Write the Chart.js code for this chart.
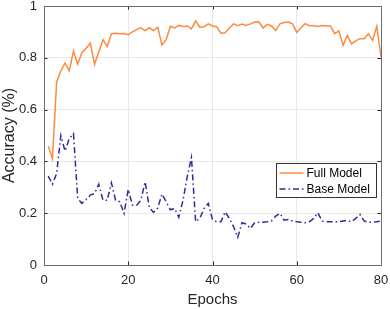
<!DOCTYPE html>
<html>
<head>
<meta charset="utf-8">
<script src="https://cdn.jsdelivr.net/npm/chart.js@4/dist/chart.umd.min.js"></script>
<style>
  html, body { margin: 0; padding: 0; background: #fff; }
  #wrap { width: 390px; height: 309px; }
</style>
</head>
<body>
<div id="wrap"><canvas id="chart" width="390" height="309"></canvas></div>
<script>
// values, epochs 1..80
const epochs = Array.from({ length: 80 }, (_, i) => i + 1);
const fullModel = [
  0.46, 0.41, 0.706, 0.75, 0.78, 0.75, 0.826, 0.775, 0.82, 0.837,
  0.857, 0.775, 0.822, 0.87, 0.844, 0.893, 0.895, 0.893, 0.894, 0.889,
  0.90, 0.909, 0.916, 0.905, 0.916, 0.905, 0.918, 0.85, 0.87, 0.922,
  0.915, 0.925, 0.921, 0.923, 0.912, 0.942, 0.918, 0.92, 0.931, 0.923,
  0.92, 0.895, 0.897, 0.915, 0.931, 0.924, 0.93, 0.925, 0.931, 0.938,
  0.939, 0.915, 0.929, 0.923, 0.905, 0.931, 0.936, 0.938, 0.931, 0.898,
  0.916, 0.932, 0.924, 0.924, 0.921, 0.925, 0.923, 0.923, 0.893, 0.904,
  0.848, 0.886, 0.854, 0.865, 0.874, 0.874, 0.893, 0.867, 0.922, 0.803
];
const baseModel = [
  0.343, 0.312, 0.353, 0.50, 0.44, 0.488, 0.507, 0.257, 0.238, 0.253,
  0.27, 0.276, 0.312, 0.25, 0.25, 0.317, 0.25, 0.244, 0.199, 0.292,
  0.231, 0.231, 0.25, 0.321, 0.222, 0.203, 0.22, 0.274, 0.244, 0.213,
  0.218, 0.184, 0.25, 0.34, 0.415, 0.167, 0.18, 0.218, 0.238, 0.175,
  0.167, 0.167, 0.205, 0.18, 0.148, 0.107, 0.163, 0.158, 0.141, 0.163,
  0.165, 0.165, 0.167, 0.17, 0.189, 0.199, 0.173, 0.176, 0.17, 0.167,
  0.165, 0.163, 0.167, 0.18, 0.202, 0.17, 0.167, 0.167, 0.167, 0.167,
  0.17, 0.172, 0.167, 0.18, 0.195, 0.17, 0.165, 0.165, 0.167, 0.17
];
const xTicks = [0, 20, 40, 60, 80];
const yTicks = [0, 0.2, 0.4, 0.6, 0.8, 1];

const FONT = 'Liberation Sans, Arial, Helvetica, sans-serif';
const AXIS = '#262626';

// box + inward ticks, matlab style
const boxPlugin = {
  id: 'box',
  afterDraw(chart) {
    const { ctx, chartArea: a, scales } = chart;
    ctx.save();
    ctx.strokeStyle = AXIS;
    ctx.lineWidth = 1;
    ctx.beginPath();
    xTicks.forEach(v => {
      const px = Math.round(scales.x.getPixelForValue(v)) + 0.5;
      ctx.moveTo(px, a.bottom); ctx.lineTo(px, a.bottom - 3.5);
      ctx.moveTo(px, a.top); ctx.lineTo(px, a.top + 3.5);
    });
    yTicks.forEach(v => {
      const py = Math.round(scales.y.getPixelForValue(v)) + 0.5;
      ctx.moveTo(a.left, py); ctx.lineTo(a.left + 3.5, py);
      ctx.moveTo(a.right, py); ctx.lineTo(a.right - 3.5, py);
    });
    ctx.stroke();
    ctx.strokeStyle = '#6e6e6e';
    ctx.strokeRect(Math.round(a.left) + 0.5, Math.round(a.top) + 0.5,
      Math.round(a.right - a.left), Math.round(a.bottom - a.top));
    ctx.restore();
  }
};

// legend box inside the axes, lower right
const legendPlugin = {
  id: 'innerLegend',
  afterDatasetsDraw(chart) {
    const { ctx, chartArea: a } = chart;
    const w = 100, h = 34;
    const x0 = Math.round(a.right - 105) + 0.5, y0 = 163.5;
    ctx.save();
    ctx.fillStyle = '#fff';
    ctx.fillRect(x0, y0, w, h);
    ctx.strokeStyle = '#333';
    ctx.lineWidth = 1;
    ctx.strokeRect(x0, y0, w, h);
    ctx.font = '12px ' + FONT;
    ctx.textBaseline = 'middle';
    chart.data.datasets.forEach((ds, i) => {
      const cy = y0 + 9.5 + i * 16;
      ctx.strokeStyle = ds.borderColor;
      ctx.lineWidth = ds.borderWidth;
      ctx.setLineDash(ds.borderDash || []);
      ctx.beginPath();
      ctx.moveTo(x0 + 3, cy); ctx.lineTo(x0 + 27, cy);
      ctx.stroke();
      ctx.setLineDash([]);
      ctx.fillStyle = '#000';
      ctx.fillText(ds.label, x0 + 30, cy + 0.5);
    });
    ctx.restore();
  }
};

new Chart(document.getElementById('chart'), {
  type: 'line',
  data: {
    datasets: [
      {
        label: 'Full Model',
        data: epochs.map((e, i) => ({ x: e, y: fullModel[i] })),
        borderColor: '#ff8a3d',
        borderWidth: 1.5,
        pointRadius: 0,
        tension: 0
      },
      {
        label: 'Base Model',
        data: epochs.map((e, i) => ({ x: e, y: baseModel[i] })),
        borderColor: '#34289a',
        borderWidth: 1.5,
        borderDash: [6, 3, 1.5, 3],
        pointRadius: 0,
        tension: 0
      }
    ]
  },
  options: {
    responsive: false,
    animation: false,
    layout: { padding: { left: 0, right: 9, top: 6, bottom: 0 } },
    plugins: { legend: { display: false }, tooltip: { enabled: false } },
    scales: {
      x: {
        type: 'linear', min: 0, max: 80,
        afterBuildTicks: s => { s.ticks = xTicks.map(v => ({ value: v })); },
        afterFit: s => { s.height = 44; s.paddingLeft = 0; s.paddingRight = 0; },
        grid: { color: '#e8e8e8', drawTicks: false },
        border: { display: false },
        ticks: { color: AXIS, font: { family: FONT, size: 13 }, padding: 8, maxRotation: 0 },
        title: { display: true, text: 'Epochs', color: AXIS, font: { family: FONT, size: 15 }, padding: { top: 1, bottom: 0 } }
      },
      y: {
        min: 0, max: 1,
        afterBuildTicks: s => { s.ticks = yTicks.map(v => ({ value: v })); },
        afterFit: s => { s.width = 44; s.paddingTop = 0; s.paddingBottom = 0; },
        grid: { color: '#e8e8e8', drawTicks: false },
        border: { display: false },
        ticks: { color: AXIS, font: { family: FONT, size: 13 }, padding: 7, callback: v => String(+v.toFixed(1)) },
        title: { display: true, text: 'Accuracy (%)', color: AXIS, font: { family: FONT, size: 16 }, padding: { top: 0, bottom: 0 } }
      }
    }
  },
  plugins: [boxPlugin, legendPlugin]
});
</script>
</body>
</html>
